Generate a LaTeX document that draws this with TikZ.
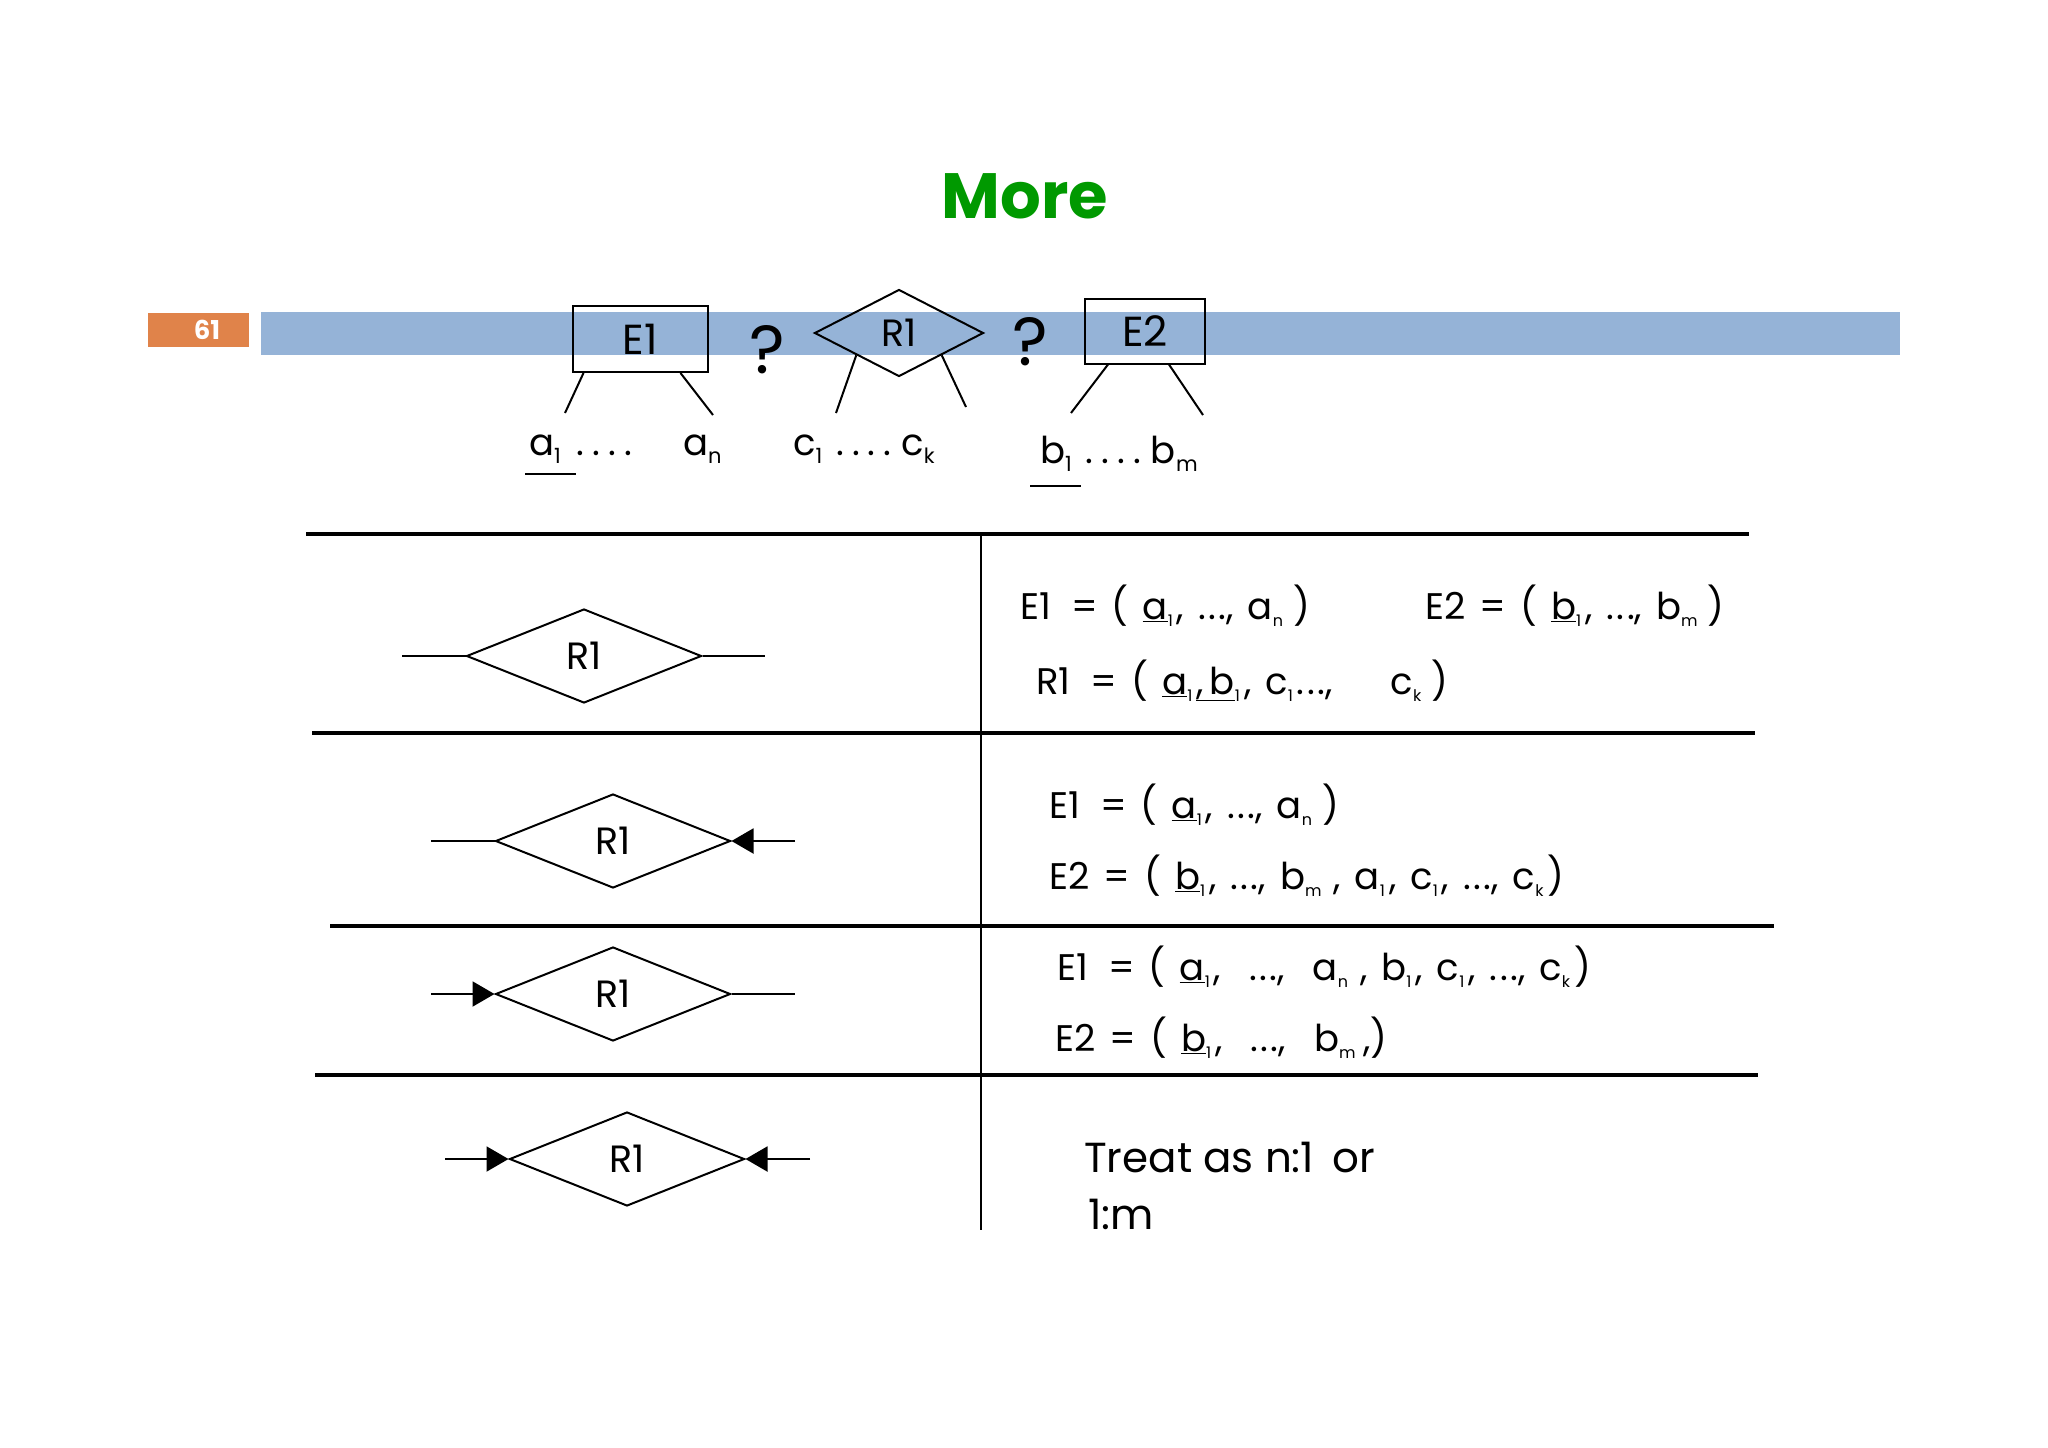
\documentclass[tikz,border=0pt]{standalone}
\usepackage{fontspec}
\setmainfont{Poppins}
\usetikzlibrary{shapes.geometric,arrows.meta}
\definecolor{barblue}{RGB}{149,179,215}
\definecolor{numorange}{RGB}{224,131,74}
\definecolor{titlegreen}{RGB}{0,153,0}
\newcommand\sbs[1]{\raisebox{-7pt}{\fontsize{16}{16}\selectfont #1}\kern4pt}
\newcommand\tsbs[1]{\raisebox{-8pt}{\fontsize{21}{21}\selectfont #1}}
\newcommand\rdots{.\hspace{2.5pt}.\hspace{2.5pt}.}
\newcommand\fdots{.\hspace{8pt}.\hspace{8pt}.\hspace{8pt}.}
\newcommand\widesp{\spaceskip=14pt plus 2pt minus 1pt\relax}
\begin{document}
\begin{tikzpicture}[x=1pt,y=-1pt,
  txt/.style={font=\fontsize{37}{42}\selectfont\widesp, inner sep=0pt, anchor=base west},
  toplbl/.style={font=\fontsize{37}{42}\selectfont, inner sep=0pt, anchor=base west},
  rel/.style={shape=diamond, draw, line width=2pt, minimum width=235pt, minimum height=94pt, inner sep=0pt, font=\fontsize{38}{42}\selectfont},
  ent/.style={draw, line width=2pt, inner sep=0pt, font=\fontsize{42}{46}\selectfont},
  conn/.style={line width=2pt},
  rule/.style={line width=4pt},
  tip/.style={-{Triangle[length=22pt,width=25pt]}}
]
\useasboundingbox (0,0) rectangle (2048,1448);
\fill[white] (0,0) rectangle (2048,1448);

% title
\node[font=\fontsize{64}{70}\selectfont\bfseries, text=titlegreen] (title) at (1025,196) {More};

% bar and page number
\fill[barblue] (261,312) rectangle (1900,355);
\node[fill=numorange, minimum width=101pt, minimum height=34pt, inner sep=0pt, text=white, font=\fontsize{26}{28}\selectfont\bfseries] (pg) at (198,330) {\hspace*{18pt}61};

% top diagram
\node[ent, minimum width=135pt, minimum height=66pt] (e1) at (640,339) {E1};
\node[shape=diamond, draw, line width=2pt, minimum width=169pt, minimum height=87pt, inner sep=0pt, font=\fontsize{38}{42}\selectfont] (r1) at (899,333) {R1};
\node[ent, minimum width=120pt, minimum height=65pt] (e2) at (1145,331) {E2};
\node[font=\fontsize{68}{72}\selectfont, inner sep=0pt] (q1) at (767,350) {?};
\node[font=\fontsize{68}{72}\selectfont, inner sep=0pt] (q2) at (1030,342) {?};

\node[toplbl] (la1) at (529,455) {a\tsbs{1}\hspace{16pt}\fdots};
\node[toplbl] (lan) at (683,455) {a\tsbs{n}};
\node[toplbl] (lc) at (793,455) {c\tsbs{1}\hspace{14pt}\fdots\hspace{10pt}c\tsbs{k}};
\node[toplbl] (lb) at (1040,463) {b\tsbs{1}\hspace{14pt}\fdots\hspace{10pt}b\tsbs{m}};

\coordinate (ta1) at (565,413);
\coordinate (tan) at (713,415);
\coordinate (tc1) at (836,413);
\coordinate (tck) at (966,407);
\coordinate (tb1) at (1071,413);
\coordinate (tbm) at (1203,415);
\draw[conn] ([xshift=12pt]e1.south west) -- (ta1);
\draw[conn] ([xshift=-28pt]e1.south east) -- (tan);
\draw[conn] (r1.south west) -- (tc1);
\draw[conn] (r1.south east) -- (tck);
\draw[conn] ([xshift=24pt]e2.south west) -- (tb1);
\draw[conn] ([xshift=-37pt]e2.south east) -- (tbm);
\draw[conn] (525,474) -- (576,474);
\draw[conn] (1030,486) -- (1081,486);

% table rules
\draw[rule] (306,534) -- (1749,534);
\draw[rule] (312,733) -- (1755,733);
\draw[rule] (330,926) -- (1774,926);
\draw[rule] (315,1075) -- (1758,1075);
\draw[conn] (981,534) -- (981,1230);

% row 1
\node[rel] (d1) at (584,656) {R1};
\coordinate (d1l) at (402,656);
\coordinate (d1r) at (765,656);
\draw[conn] (d1l) -- (d1.west);
\draw[conn] (d1.east) -- (d1r);
\node[txt] (t1a) at (1020,619) {E1 \,= ( \underline{a}\sbs{1}, \rdots, a\sbs{n}\hspace{6pt})};
\node[txt] (t1b) at (1425,619) {E2 = ( \underline{b}\sbs{1}, \rdots, b\sbs{m}\hspace{6pt})};
\node[txt] (t1c) at (1036,694) {R1 \,= ( \underline{a}\sbs{1}\underline{,\,b}\sbs{1}, c\sbs{1} \rdots, \hspace{30pt} c\sbs{k}\hspace{6pt})};

% row 2
\node[rel] (d2) at (613,841) {R1};
\coordinate (d2l) at (431,841);
\coordinate (d2r) at (795,841);
\draw[conn] (d2l) -- (d2.west);
\draw[conn, tip] (d2r) -- (d2.east);
\node[txt] (t2a) at (1049,818) {E1 \,= ( \underline{a}\sbs{1}, \rdots, a\sbs{n}\hspace{6pt})};
\node[txt] (t2b) at (1049,889) {E2 = ( \underline{b}\sbs{1}, \rdots, b\sbs{m}\hspace{8pt}, a\sbs{1}, c\sbs{1}, \rdots, c\sbs{k})};

% row 3
\node[rel] (d3) at (613,994) {R1};
\coordinate (d3l) at (431,994);
\coordinate (d3r) at (795,994);
\draw[conn, tip] (d3l) -- (d3.west);
\draw[conn] (d3.east) -- (d3r);
\node[txt] (t3a) at (1057,980) {E1 \,= ( \underline{a}\sbs{1}, \ \rdots, \ a\sbs{n}\hspace{8pt}, b\sbs{1}, c\sbs{1}, \rdots, c\sbs{k})};
\node[txt] (t3b) at (1055,1051) {E2 = ( \underline{b}\sbs{1}, \ \rdots, \ b\sbs{m}\hspace{4pt},)};

% row 4
\node[txt, font=\fontsize{42}{46}\selectfont] (t4a) at (1084,1172) {Treat as n:1 \,or};
\node[txt, font=\fontsize{42}{46}\selectfont] (t4b) at (1088,1229) {1:m};
\node[rel] (d4) at (627,1159) {R1};
\coordinate (d4l) at (445,1159);
\coordinate (d4r) at (810,1159);
\draw[conn, tip] (d4l) -- (d4.west);
\draw[conn, tip] (d4r) -- (d4.east);
\end{tikzpicture}
\end{document}
